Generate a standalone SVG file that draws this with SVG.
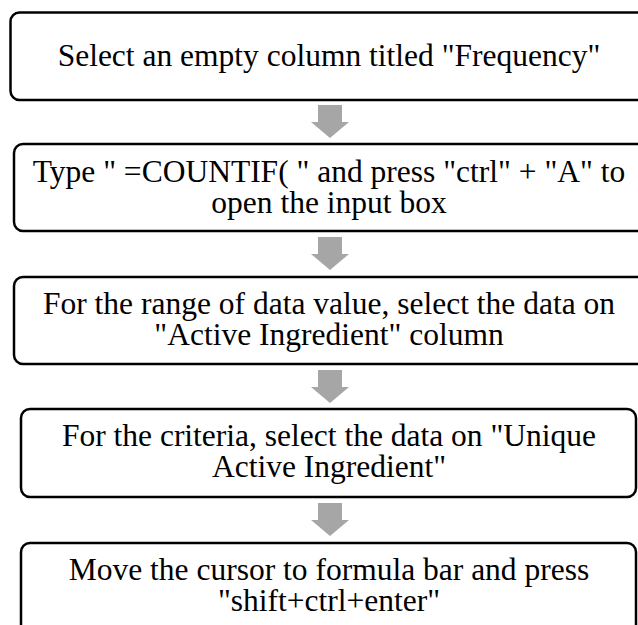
<svg xmlns="http://www.w3.org/2000/svg" width="638" height="625" viewBox="0 0 638 625">
<defs>
<style>
.box{fill:#ffffff;stroke:#000000;stroke-width:2.5}
.lbl{font-family:'Liberation Serif','Times New Roman',serif;font-size:31.5px;fill:#000000;text-anchor:middle}
.arr{fill:#a6a6a6;stroke:none}
</style>
<path id="downArrow" d="M-12,0 H12 V17 H19 L0,33 L-19,17 H-12 Z"/>
</defs>
<rect width="638" height="625" fill="#ffffff"/>
<g id="connectors">
<use href="#downArrow" class="arr" x="330" y="105"/>
<use href="#downArrow" class="arr" x="330" y="237"/>
<use href="#downArrow" class="arr" x="330" y="370"/>
<use href="#downArrow" class="arr" x="330" y="503"/>
</g>
<g id="step1">
<rect class="box" x="10.5" y="12.5" width="660" height="87.5" rx="9"/>
<text class="lbl" x="329" y="66">Select an empty column titled "Frequency"</text>
</g>
<g id="step2">
<rect class="box" x="14" y="144" width="660" height="87" rx="9"/>
<text class="lbl" x="329" y="182">Type " =COUNTIF( " and press "ctrl" + "A" to<tspan x="329" dy="31">open the input box</tspan></text>
</g>
<g id="step3">
<rect class="box" x="14" y="277" width="660" height="87" rx="9"/>
<text class="lbl" x="329" y="314">For the range of data value, select the data on<tspan x="329" dy="31">"Active Ingredient" column</tspan></text>
</g>
<g id="step4">
<rect class="box" x="21" y="409" width="615" height="88" rx="9"/>
<text class="lbl" x="329" y="446">For the criteria, select the data on "Unique<tspan x="329" dy="31">Active Ingredient"</tspan></text>
</g>
<g id="step5">
<rect class="box" x="21" y="543" width="615" height="100" rx="9"/>
<text class="lbl" x="329" y="580">Move the cursor to formula bar and press<tspan x="329" dy="31">"shift+ctrl+enter"</tspan></text>
</g>
</svg>
